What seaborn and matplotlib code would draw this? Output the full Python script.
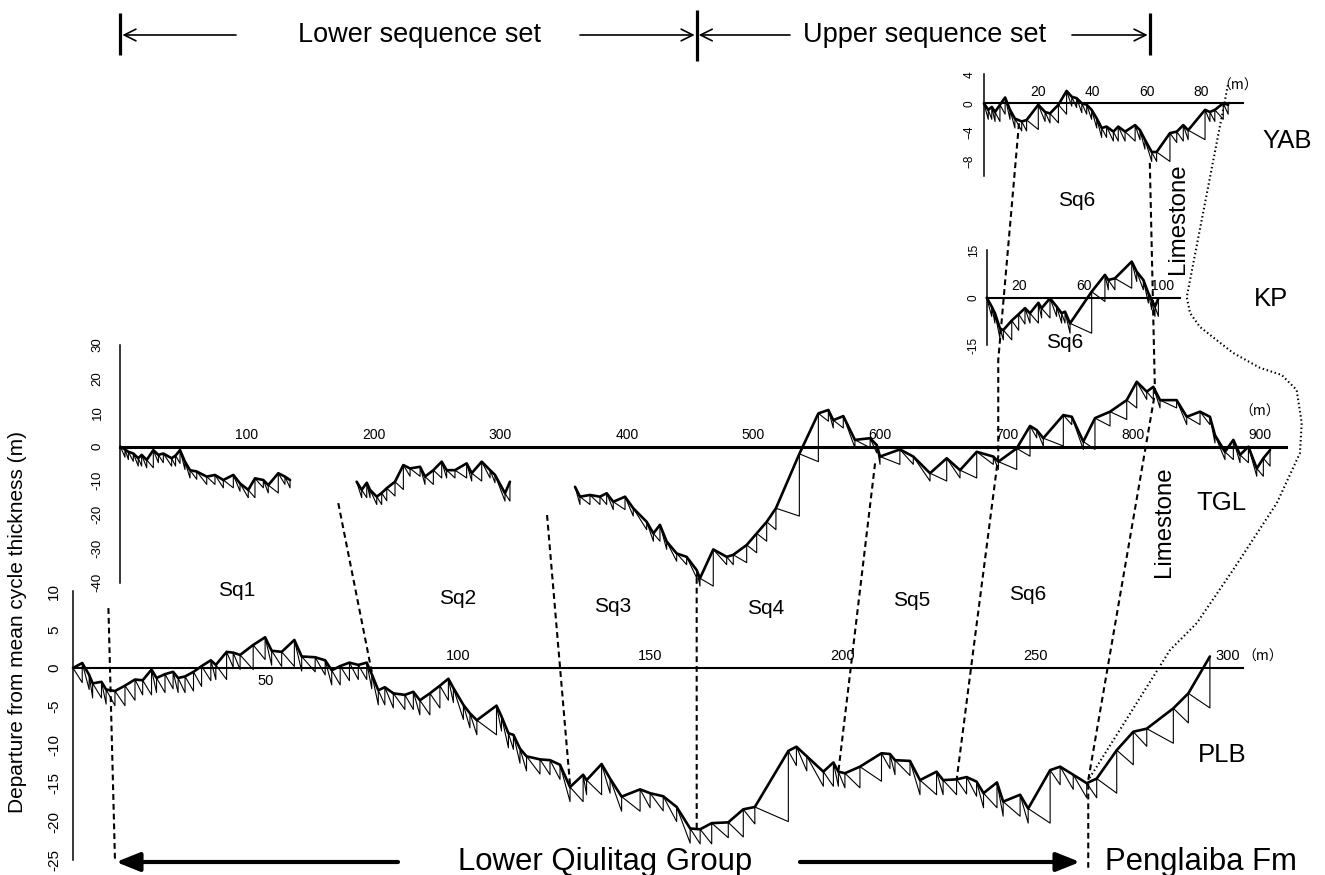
import numpy as np
import pandas as pd
import matplotlib
matplotlib.use("Agg")
import matplotlib.pyplot as plt
import seaborn as sns

# ---------------- data (cumulative thickness m, departure from mean m) ----------------
plb_x = [0, 2.4, 4.2, 5.1, 7.4, 8.6, 10.9, 13.5, 16.1, 18.1,
         20.4, 21.7, 23.9, 26.0, 27.3, 29.1, 31.3, 33.4, 35.8, 37.1,
         39.9, 41.6, 43.4, 46.8, 49.9, 51.6, 54.2, 57.5, 59.4, 62.9,
         65.5, 67.2, 69.4, 71.8, 74.1, 76.3, 77.6, 79.3, 81.0, 83.2,
         86.2, 88.4, 90.1, 92.7, 95.3, 97.5, 98.8, 101.4, 103.1, 104.9,
         110.0, 111.3, 113.1, 114.4, 116.1, 117.8, 121.3, 123.9, 126.5, 129.1,
         132.5, 133.4, 137.3, 139.5, 142.5, 147.3, 149.9, 153.3, 156.8, 160.3,
         162.9, 165.9, 170.2, 174.1, 177.1, 185.8, 187.9, 190.6, 194.9, 197.5,
         198.8, 200.5, 204.4, 210.0, 212.2, 213.5, 217.4, 220.0, 224.3, 226.0,
         229.5, 232.1, 234.7, 236.5, 240.0, 241.6, 246.0, 248.1, 253.8, 256.4,
         259.8, 263.3, 265.9, 271.1, 275.4, 278.9, 285.8, 289.7, 295.3]
plb_y = [0, 0.65, -0.9, -2.0, -1.8, -2.8, -3.0, -2.3, -1.5, -1.6,
         -0.2, -1.3, -0.8, -0.5, -1.3, -1.1, -0.5, 0.25, 1.0, 0.4,
         2.1, 2.0, 1.7, 3.0, 4.0, 2.25, 2.1, 3.65, 1.5, 1.4,
         1.0, -0.3, 0.25, 0.7, 0.4, 0.7, -0.8, -2.9, -2.5, -3.3,
         -3.5, -3.1, -4.2, -3.3, -2.3, -1.4, -2.6, -4.8, -5.9, -6.8,
         -4.9, -6.3, -8.5, -8.7, -10.5, -11.5, -11.9, -12.0, -12.6, -15.5,
         -13.9, -14.6, -12.5, -14.4, -16.75, -15.8, -16.3, -16.7, -18.1, -20.9,
         -21.0, -20.2, -20.1, -18.4, -18.1, -10.8, -10.25, -11.5, -13.5, -12.3,
         -13.5, -13.7, -12.85, -11.1, -11.2, -12.0, -12.1, -14.6, -13.5, -14.6,
         -14.5, -14.2, -14.8, -16.3, -14.9, -17.4, -16.5, -18.3, -13.3, -12.85,
         -13.9, -15.0, -14.4, -10.7, -8.3, -7.9, -5.25, -3.3, 1.5]
plb_mean = 1.9

tgl_x_a = [0, 3.6, 6.3, 10.2, 14.1, 16.8, 20.8, 26.0, 30.0, 33.9,
           40.5, 43.6, 47.1, 51.0, 55.0, 60.3, 68.2, 74.7, 81.3, 89.2,
           94.5, 101.0, 106.3, 112.9, 116.8, 124.7, 130.0, 134.0]
tgl_y_a = [0, -0.8, -1.5, -2.0, -3.4, -2.4, -3.9, -1.0, -2.4, -2.0,
           -3.4, -2.6, -1.0, -4.4, -6.9, -7.3, -8.8, -8.3, -9.8, -8.3,
           -10.8, -12.7, -9.3, -9.8, -11.3, -7.8, -8.8, -9.8]
tgl_x_b = [186.6, 190.6, 194.6, 197.2, 202.5, 206.4, 210.4, 216.9, 223.5, 228.8,
           236.7, 240.6, 247.2, 253.8, 257.7, 264.3, 273.5, 277.5, 285.4, 292.0,
           295.9, 303.8, 307.7]
tgl_y_b = [-10.3, -12.7, -10.6, -12.7, -14.7, -13.6, -12.2, -10.3, -5.4, -6.4,
           -5.9, -8.8, -6.9, -4.4, -6.9, -6.9, -4.9, -7.8, -4.4, -6.9,
           -8.3, -13.7, -10.3]
tgl_x_c = [359.1, 363.0, 370.9, 378.8, 384.1, 389.3, 398.6, 405.1, 415.7, 421.0,
           426.2, 431.5, 439.4, 447.3, 455.2, 457.8, 468.3, 478.9, 484.1, 494.7,
           502.6, 510.5, 517.8, 536.3, 551.3, 559.2, 563.1, 571.0, 580.2, 592.2,
           597.4, 600.0, 615.7, 626.3, 639.5, 652.7, 663.2, 676.4, 689.5, 693.5,
           708.0, 718.5, 723.8, 729.0, 744.8, 751.5, 760.6, 769.8, 781.7, 794.9,
           802.8, 810.7, 815.9, 821.2, 834.3, 842.3, 852.8, 860.6, 864.6, 872.5,
           879.1, 884.4, 891.0, 897.6, 902.8, 908.1]
tgl_y_c = [-11.8, -14.7, -14.2, -14.7, -13.7, -16.2, -14.7, -18.1, -22.1, -25.5,
           -23.0, -27.9, -31.4, -32.4, -36.3, -38.7, -30.2, -32.4, -31.8, -28.9,
           -25.5, -22.1, -18.1, -2.1, 9.8, 10.8, 7.8, 9.0, 2.0, 2.5,
           0.5, -2.9, -0.8, -2.9, -7.8, -3.4, -6.9, -1.5, -2.9, -4.4,
           -0.5, 6.1, 4.9, 2.5, 9.3, 8.8, 1.5, 8.4, 10.3, 13.7,
           19.1, 16.2, 17.6, 13.7, 13.7, 8.8, 10.3, 8.8, 3.4, -1.5,
           2.0, -2.4, 0.0, -6.4, -3.4, -1.0]
tgl_mean = 2.3

yab_x = [0, 1.6, 2.9, 4.1, 5.9, 7.8, 9.6, 11.4, 13.9, 15.7,
         20.0, 22.5, 24.3, 27.4, 30.4, 32.3, 34.1, 36.0, 37.8, 39.6,
         41.5, 43.3, 45.1, 47.6, 49.4, 51.9, 55.6, 57.4, 59.2, 61.7,
         63.5, 68.4, 70.9, 73.3, 75.1, 81.3, 83.1, 84.9, 88.0, 89.8]
yab_y = [0, -0.9, -0.5, -1.2, -0.2, 0.8, -0.9, -2.1, -2.5, -2.3,
         -0.2, -1.2, -1.4, -0.2, 1.7, 0.9, 0.7, 0.0, -0.2, -0.9,
         -2.1, -3.4, -3.2, -3.9, -3.2, -3.9, -3.0, -3.7, -5.0, -6.7,
         -6.7, -4.1, -3.9, -3.0, -3.7, -0.9, -1.2, -0.9, 0.0, -0.2]
yab_mean = 1.3

kp_x = [0, 3.1, 5.1, 8.2, 10.3, 15.5, 19.8, 23.7, 26.8, 32.0,
        34.0, 39.2, 43.3, 46.4, 48.5, 51.6, 65.0, 73.2, 75.3, 79.4,
        89.8, 92.9, 97.0, 100.1, 102.2, 104.2, 106.3]
kp_y = [0, -2.8, -4.9, -9.7, -10.2, -7.2, -5.2, -3.3, -4.9, -1.6,
        -3.3, -0.2, -2.8, -4.9, -4.4, -8.1, 1.9, 7.2, 5.6, 6.1,
        11.4, 8.2, 5.6, 1.4, -0.7, -2.8, -0.2]
kp_mean = 3.1

sections = ["YAB", "KP", "TGL", "PLB"]
seq_labels = ["Sq1", "Sq2", "Sq3", "Sq4", "Sq5", "Sq6"]

# sequence boundary correlation lines: (section, depth, departure)
boundary_lines = [
    [("PLB", 9.2, 7.8), ("PLB", 10.9, -25.0)],
    [("TGL", 172.1, -16.6), ("PLB", 77.6, -0.5)],
    [("TGL", 337.0, -20.1), ("PLB", 129.1, -15.2)],
    [("TGL", 455.2, -38.6), ("PLB", 162.0, -21.1)],
    [("TGL", 596.1, -4.9), ("PLB", 198.8, -13.5)],
    [("YAB", 12.9, -2.75), ("TGL", 693.4, 25.5), ("TGL", 693.4, -2.9), ("PLB", 229.5, -14.6)],
    [("YAB", 61.0, -8.2), ("TGL", 817.2, 15.8), ("PLB", 263.7, -14.6), ("PLB", 263.7, -26.0)],
]
limestone_top = [("YAB", 89.7, 2.5), ("TGL", 842.3, 44.0), ("TGL", 844.9, 39.3), ("TGL", 852.8, 35.2),
                 ("TGL", 878.8, 27.6), ("TGL", 900.1, 23.2), ("TGL", 917.3, 21.1), ("TGL", 929.1, 16.7),
                 ("TGL", 933.1, 7.0), ("TGL", 931.7, -1.9), ("TGL", 913.4, -16.6), ("TGL", 878.8, -36.3),
                 ("TGL", 850.2, -51.9), ("TGL", 829.1, -59.8), ("PLB", 263.7, -14.6)]

# ---------------- figure ----------------
sns.set_theme(style="white")
plt.rcParams["font.family"] = ["Liberation Sans", "DejaVu Sans"]
for k in ("text.color", "axes.labelcolor", "xtick.color", "ytick.color", "axes.edgecolor"):
    plt.rcParams[k] = "black"
W, H = 1325, 875
fig = plt.figure(figsize=(W / 100, H / 100), dpi=100)


def section_axes(x0, sx, y0, sy, xlim, ylim):
    l = x0 + sx * xlim[0]
    r = x0 + sx * xlim[1]
    t = y0 - sy * ylim[1]
    b = y0 - sy * ylim[0]
    ax = fig.add_axes([l / W, 1 - b / H, (r - l) / W, (b - t) / H])
    ax.set_xlim(xlim)
    ax.set_ylim(ylim)
    ax.set_facecolor("none")
    ax.grid(False)
    for s in ("top", "right"):
        ax.spines[s].set_visible(False)
    ax.spines["left"].set_position(("data", 0))
    ax.spines["bottom"].set_position(("data", 0))
    for s in ("left", "bottom"):
        ax.spines[s].set_color("black")
    return ax


def fischer_df(segments, m):
    rows = []
    for sid, (xs, ys) in enumerate(segments):
        for xv, yv in zip(xs, ys):
            rows.append(("thick", sid, xv, yv))
        rows.append(("thin", sid, xs[0], ys[0]))
        for i in range(1, len(xs)):
            b = min(ys[i - 1], ys[i]) - m
            rows.append(("thin", sid, xs[i], b))
            rows.append(("thin", sid, xs[i], ys[i]))
    return pd.DataFrame(rows, columns=["kind", "seg", "x", "y"])


def draw_section(ax, segments, m):
    df = fischer_df(segments, m)
    sns.lineplot(data=df[df.kind == "thin"], x="x", y="y", units="seg", estimator=None,
                 sort=False, color="black", linewidth=0.8, ax=ax, legend=False)
    sns.lineplot(data=df[df.kind == "thick"], x="x", y="y", units="seg", estimator=None,
                 sort=False, color="black", linewidth=1.9, ax=ax, legend=False)
    ax.set_xlabel("")
    ax.set_ylabel("")


def style(ax, yticks, ylabels, ybounds, xend, xticks, xlabels, zero_lw, ysize, ypad, xsize,
          below=(), shift=None):
    ax.spines["left"].set_bounds(*ybounds)
    ax.spines["left"].set_linewidth(1.1)
    ax.spines["bottom"].set_bounds(0, xend)
    ax.spines["bottom"].set_linewidth(zero_lw)
    ax.set_yticks(yticks)
    ax.set_yticklabels(ylabels, rotation=90, va="center", fontsize=ysize, color="black")
    ax.tick_params(axis="y", direction="out", length=4, width=1.1, pad=ypad, colors="black")
    ax.set_xticks(xticks)
    ax.set_xticklabels([])
    ax.tick_params(axis="x", direction="in", length=5, width=0.8, color="#777777",
                   labelbottom=False)
    shift = shift or {}
    for xv, lab in zip(xticks, xlabels):
        if not lab:
            continue
        dx = shift.get(xv, 0)
        if xv in below:
            ax.annotate(lab, xy=(xv, 0), xytext=(dx, -4), textcoords="offset points",
                        ha="center", va="top", fontsize=xsize, color="black")
        else:
            ax.annotate(lab, xy=(xv, 0), xytext=(dx, 5.5), textcoords="offset points",
                        ha="center", va="baseline", fontsize=xsize, color="black")


ax_plb = section_axes(73, 3.85, 668, 7.68, (-2, 310), (-26.5, 11))
ax_tgl = section_axes(120.4, 1.266, 446.7, 3.40, (-2, 925), (-42, 31))
ax_yab = section_axes(983.9, 2.72, 103.3, 7.27, (-1, 97), (-10.5, 4.5))
ax_kp = section_axes(986.7, 1.615, 297.7, 3.17, (-1, 122), (-15.5, 15.5))
axes = {"PLB": ax_plb, "TGL": ax_tgl, "YAB": ax_yab, "KP": ax_kp}

draw_section(ax_plb, [(plb_x, plb_y)], plb_mean)
draw_section(ax_tgl, [(tgl_x_a, tgl_y_a), (tgl_x_b, tgl_y_b), (tgl_x_c, tgl_y_c)], tgl_mean)
draw_section(ax_yab, [(yab_x, yab_y)], yab_mean)
draw_section(ax_kp, [(kp_x, kp_y)], kp_mean)

style(ax_plb, [-25, -20, -15, -10, -5, 0, 5, 10],
      ["-25", "-20", "-15", "-10", "-5", "0", "5", "10"], (-25, 10), 304,
      [50, 100, 150, 200, 250, 300], ["50", "100", "150", "200", "250", "300"],
      1.5, 11, 4.5, 10.5, below=(50,))
style(ax_tgl, [-40, -30, -20, -10, 0, 10, 20, 30],
      ["-40", "-30", "-20", "-10", "0", "10", "20", "30"], (-40, 30), 921,
      list(range(100, 1000, 100)), [str(v) for v in range(100, 1000, 100)],
      2.2, 9.5, 8, 10)
style(ax_yab, [-10, -8, -6, -4, -2, 0, 2, 4],
      ["", "\u22128", "", "\u22124", "", "0", "", "4"], (-10, 4), 95.3,
      [20, 40, 60, 80], ["20", "40", "60", "80"], 1.5, 8.5, 2, 10)
style(ax_kp, [-15, -10, -5, 0, 5, 10, 15],
      ["-15", "", "", "0", "", "", "15"], (-15, 15), 119.7,
      [20, 40, 60, 80, 100], ["20", "", "60", "", "100"], 1.5, 8.5, 1, 10,
      shift={100: 10})

cjk = ["Noto Sans CJK SC", "DejaVu Sans"]
ax_tgl.annotate("\uff08m\uff09", xy=(900, 0), xytext=(0, 25), textcoords="offset points",
                ha="center", va="center", fontsize=10, family=cjk, color="black")
ax_plb.annotate("\uff08m\uff09", xy=(303, 0), xytext=(2, 5.5), textcoords="offset points",
                ha="left", va="baseline", fontsize=10, family=cjk, color="black")
ax_yab.text(93.4, 2.4, "\uff08m\uff09", ha="center", va="center", fontsize=10, family=cjk,
            color="black")

# ---------------- overlay for correlation lines and labels ----------------
ov = fig.add_axes([0, 0, 1, 1], zorder=10)
ov.set_xlim(0, W)
ov.set_ylim(H, 0)
ov.axis("off")
ov.set_facecolor("none")


def to_px(name, x, y):
    d = axes[name].transData.transform((x, y))
    return d[0], H - d[1]


for line in boundary_lines:
    pts = np.array([to_px(*p) for p in line])
    ov.plot(pts[:, 0], pts[:, 1], color="black", lw=1.5, linestyle=(0, (2.8, 1.9)))
pts = np.array([to_px(*p) for p in limestone_top])
ov.plot(pts[:, 0], pts[:, 1], color="black", lw=1.5, linestyle=(0, (0.7, 1.3)))

# top sequence-set brackets
bx = [to_px("TGL", v, 0)[0] for v in (0, 455.2, 813.0)]
for xb, (y0, y1) in zip(bx, [(13, 55), (10, 61), (13, 55)]):
    ov.plot([xb, xb], [y0, y1], color="black", lw=2.3, solid_capstyle="butt")
arr = dict(arrowstyle="->,head_length=0.6,head_width=0.3", lw=1.2, color="black",
           shrinkA=0, shrinkB=0, mutation_scale=14)
ov.annotate("", xy=(bx[0] + 2, 35), xytext=(236, 35), arrowprops=arr)
ov.annotate("", xy=(bx[1] - 2, 35), xytext=(580, 35), arrowprops=arr)
ov.annotate("", xy=(bx[1] + 2, 35), xytext=(790, 35), arrowprops=arr)
ov.annotate("", xy=(bx[2] - 2, 35), xytext=(1072, 35), arrowprops=arr)
ov.text(420, 35, "Lower sequence set", ha="center", va="center", fontsize=19.5)
ov.text(925, 35, "Upper sequence set", ha="center", va="center", fontsize=19.5)

# bottom formation arrows
barr = dict(arrowstyle="-|>,head_length=0.55,head_width=0.22", lw=3.0, color="black",
            shrinkA=0, shrinkB=0, mutation_scale=26)
ov.annotate("", xy=(116, 862), xytext=(398, 862), arrowprops=barr)
ov.annotate("", xy=(1080, 862), xytext=(800, 862), arrowprops=barr)
ov.text(605, 870, "Lower Qiulitag Group", ha="center", va="baseline", fontsize=22.4)
ov.text(1105, 870, "Penglaiba Fm", ha="left", va="baseline", fontsize=22.4)

# section names
for name, (xp, yp) in zip(sections, [(1287, 141), (1271, 299), (1221, 503), (1222, 755)]):
    ov.text(xp, yp, name, ha="center", va="center", fontsize=18.5)

# sequence labels
for lab, (xp, yp) in zip(seq_labels, [(237, 590), (458, 599), (613, 607), (766, 608),
                                      (912, 600), (1028, 594)]):
    ov.text(xp, yp, lab, ha="center", va="center", fontsize=15)
ov.text(1077, 200, "Sq6", ha="center", va="center", fontsize=15)
ov.text(1065, 343, "Sq6", ha="center", va="center", fontsize=15)

ov.text(1178, 219, "Limestone", rotation=90, ha="center", va="center", fontsize=17.3)
ov.text(1164, 522, "Limestone", rotation=90, ha="center", va="center", fontsize=17.3)
ov.text(18, 622, "Departure from mean cycle thickness (m)", rotation=90,
        ha="center", va="center", fontsize=15)

fig.savefig("out.png", dpi=100)
